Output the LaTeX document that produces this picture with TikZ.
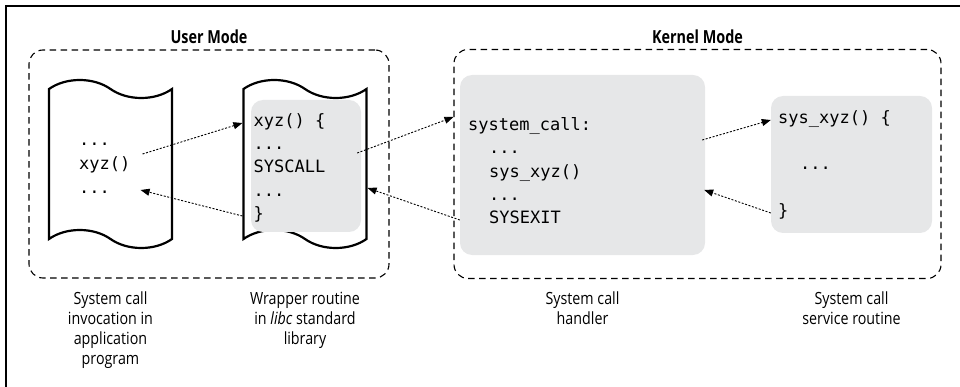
\documentclass[tikz,border=0pt]{standalone}
\usepackage{fontspec}
\usepackage{tikz}
\usetikzlibrary{arrows.meta,shapes.symbols,calc}
\newfontfamily\codefont{DejaVu Sans Mono}
\newfontfamily\labelfont[FakeStretch=0.85]{Open Sans}
\newfontfamily\modefont[FakeStretch=0.8]{Open Sans}
\definecolor{codegray}{RGB}{230,231,232}

\begin{document}
\begin{tikzpicture}[x=1pt,y=-1pt,
    codetext/.style={font=\codefont\fontsize{17}{20}\selectfont, inner sep=0pt, text height=12pt, text depth=4pt, anchor=base west},
    caption/.style={font=\labelfont\fontsize{16.8}{20}\selectfont, align=center, anchor=north, inner sep=0pt},
    modetitle/.style={font=\modefont\bfseries\fontsize{18}{20}\selectfont, inner sep=0pt},
    modebox/.style={draw, dash pattern=on 6.5pt off 4.5pt, line width=1.1pt, rounded corners=14pt},
    codebox/.style={fill=codegray, rounded corners=12pt, inner sep=0pt},
    scrollpage/.style={tape, draw, line width=2.2pt, fill=white, inner sep=0pt, minimum width=123pt, minimum height=168pt, tape bend top=out and in, tape bend bottom=out and in, tape bend height=18pt},
    callarrow/.style={-{Triangle[length=9pt,width=7pt]}, dash pattern=on 2pt off 1.6pt, line width=0.9pt}]
    \useasboundingbox (0,0) rectangle (960,387);
    % frame on two sides
    \draw[line width=1.5pt] (960,6) -- (6,6) -- (6,387);
    % the two modes
    \node[modebox, minimum width=360pt, minimum height=228pt] (userbox) at (209,164) {};
    \node[modebox, minimum width=487pt, minimum height=229pt] (kernelbox) at (697.5,164) {};
    \node[modetitle] (usertitle) at (209,37) {User Mode};
    \node[modetitle] (kerneltitle) at (697.5,37) {Kernel Mode};
    % pages and code areas
    \node[scrollpage] (appscroll) at (110.5,164) {};
    \node[scrollpage] (wrapscroll) at (305,164) {};
    \node[codebox, minimum width=110pt, minimum height=132pt] (wrapbox) at (306,166) {};
    \node[codebox, minimum width=245pt, minimum height=180pt] (handler) at (582.5,165) {};
    \node[codebox, minimum width=161pt, minimum height=137pt] (service) at (851.5,164.5) {};
    % application program
    \node[codetext] (appdotsA) at (79,146) {...};
    \node[codetext] (appcall) at (79,170) {xyz()};
    \node[codetext] (appdotsB) at (79,194) {...};
    % wrapper routine
    \node[codetext] (wrapopen) at (253.5,127) {xyz() \{};
    \node[codetext] (wrapdotsA) at (253.5,150) {...};
    \node[codetext] (syscall) at (253.5,173) {SYSCALL};
    \node[codetext] (wrapdotsB) at (253.5,197) {...};
    \node[codetext] (wrapclose) at (253.5,220) {\}};
    % system call handler
    \node[codetext] (systemcall) at (468,131) {system\_call:};
    \node[codetext] (hdotsA) at (489,154) {...};
    \node[codetext] (callsvc) at (489,178) {sys\_xyz()};
    \node[codetext] (hdotsB) at (489,201) {...};
    \node[codetext] (sysexit) at (489,224) {SYSEXIT};
    % service routine
    \node[codetext] (svcopen) at (778,124) {sys\_xyz() \{};
    \node[codetext] (svcdots) at (800,170) {...};
    \node[codetext] (svcclose) at (778,217) {\}};
    % captions
    \node[caption] (appcap) at (110.5,292) {System call\\invocation in\\application\\program};
    \node[caption] (wrapcap) at (305,292) {Wrapper routine\\in \textit{libc} standard\\library};
    \node[caption] (handlercap) at (582.5,292) {System call\\handler};
    \node[caption] (servicecap) at (851.5,292) {System call\\service routine};
    % calls and returns
    \draw[callarrow] ($(appcall.east)+(12pt,12pt)$) -- (wrapscroll.west |- wrapopen);
    \draw[callarrow] (wrapscroll.west |- wrapclose) -- ($(appcall.east |- appdotsB)+(10pt,0pt)$);
    \draw[callarrow] ($(wrapbox.east)+(-4pt,13pt)$) -- ($(kernelbox.west |- systemcall)+(0pt,10pt)$);
    \draw[callarrow] (handler.west |- sysexit) -- ($(wrapscroll.east |- wrapdotsB)+(0pt,5pt)$);
    \draw[callarrow] ($(handler.east)+(-3pt,25pt)$) -- (service.west |- svcopen);
    \draw[callarrow] (service.west |- svcclose) -- ($(handler.east)+(-1pt,-25pt)$);
\end{tikzpicture}
\end{document}
